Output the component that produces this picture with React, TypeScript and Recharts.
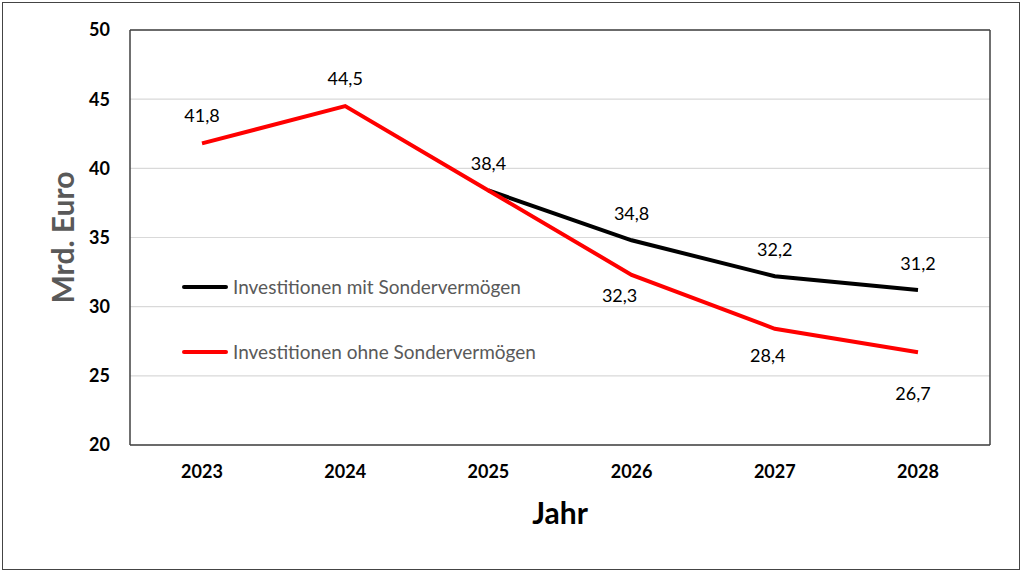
import { CartesianGrid, LabelList, Line, LineChart, XAxis, YAxis } from "recharts";

const years = ["2023", "2024", "2025", "2026", "2027", "2028"];
const mitSonder = [null, null, 38.4, 34.8, 32.2, 31.2];
const ohneSonder = [41.8, 44.5, 38.4, 32.3, 28.4, 26.7];
const yTicks = [20, 25, 30, 35, 40, 45, 50];

const seriesNames = {
  mit: "Investitionen mit Sondervermögen",
  ohne: "Investitionen ohne Sondervermögen"
};

// label nudges (px), per point
const mitLabelDy = [0, 0, 0, -27, -27, -27];
const ohneLabelDy = [-28, -28, -27, 20, 26, 41];
const ohneLabelDx = [0, 0, 0, -12, -7, -5];

const data = years.map((year, i) => ({
  year,
  mit: mitSonder[i],
  ohne: ohneSonder[i]
}));

const font = "Lato, 'Open Sans', sans-serif";
const fmt = (v: number) => v.toFixed(1).replace(".", ",");
const frame = { stroke: "#404040", strokeWidth: 1.5 };

function makeLabel(dyList: number[], dxList: number[] | null, minIndex: number) {
  return (props: any) => {
    const { x, y, value, index } = props;
    if (value == null || index < minIndex) return null;
    return (
      <text
        x={x + (dxList ? dxList[index] : 0)}
        y={y + dyList[index]}
        textAnchor="middle"
        dominantBaseline="central"
        fontFamily={font}
        fontSize={18}
        fill="#000"
      >
        {fmt(value)}
      </text>
    );
  };
}

function LegendBox() {
  const rows = [
    { name: seriesNames.mit, color: "#000000" },
    { name: seriesNames.ohne, color: "#ff0000" }
  ];
  return (
    <div style={{ position: "absolute", left: 182, top: 254, fontFamily: font }}>
      {rows.map((r) => (
        <div key={r.name} style={{ display: "flex", alignItems: "center", height: 65 }}>
          <div style={{ width: 46, height: 4, borderRadius: 2, background: r.color, marginRight: 5 }} />
          <span style={{ fontSize: 19, color: "#595959" }}>{r.name}</span>
        </div>
      ))}
    </div>
  );
}

function YTitle(props: any) {
  const { viewBox } = props;
  const cx = viewBox.x + 42;
  const cy = viewBox.y + viewBox.height / 2;
  return (
    <text
      x={cx}
      y={cy}
      transform={`rotate(-90 ${cx} ${cy})`}
      textAnchor="middle"
      dominantBaseline="central"
      fontFamily={font}
      fontWeight="bold"
      fontSize={30}
      fill="#595959"
    >
      Mrd. Euro
    </text>
  );
}

function XTitle(props: any) {
  const { viewBox } = props;
  const cx = viewBox.x + viewBox.width / 2;
  return (
    <text
      x={cx}
      y={viewBox.y + 67}
      textAnchor="middle"
      dominantBaseline="central"
      fontFamily={font}
      fontWeight="bold"
      fontSize={30}
      fill="#000"
    >
      Jahr
    </text>
  );
}

const tickStyle = { fill: "#000", fontSize: 18, fontWeight: "bold", fontFamily: font };

export default function App() {
  return (
    <div style={{ position: "absolute", left: 0, top: 0, width: 1024, height: 574, background: "#fff" }}>
      <div
        style={{
          position: "absolute",
          left: 2,
          top: 2,
          width: 1018,
          height: 568,
          border: "1.5px solid #444",
          boxSizing: "border-box"
        }}
      />
      <LineChart
        width={1024}
        height={574}
        data={data}
        margin={{ top: 29, right: 33, left: 20, bottom: 44 }}
        style={{ position: "absolute", left: 0, top: 0 }}
      >
        <CartesianGrid vertical={false} stroke="#d9d9d9" strokeWidth={1.2} />
        <XAxis
          dataKey="year"
          height={85}
          padding={{ left: 72, right: 72 }}
          tickLine={false}
          tickSize={0}
          tickMargin={20}
          tick={tickStyle}
          axisLine={frame}
          label={<XTitle />}
        />
        <XAxis
          xAxisId="top"
          orientation="top"
          dataKey="year"
          height={1}
          padding={{ left: 72, right: 72 }}
          tick={false}
          tickLine={false}
          axisLine={frame}
        />
        <YAxis
          domain={[20, 50]}
          ticks={yTicks}
          width={110}
          tickLine={false}
          tickSize={0}
          tickMargin={20}
          tick={tickStyle}
          axisLine={frame}
          label={<YTitle />}
        />
        <YAxis
          yAxisId="right"
          orientation="right"
          domain={[20, 50]}
          width={1}
          tick={false}
          tickLine={false}
          axisLine={frame}
        />
        {/* invisible twin so the top/right frame axes get drawn */}
        <Line
          xAxisId="top"
          yAxisId="right"
          dataKey="ohne"
          stroke="none"
          dot={false}
          activeDot={false}
          legendType="none"
          isAnimationActive={false}
        />
        <Line
          dataKey="mit"
          name={seriesNames.mit}
          stroke="#000000"
          strokeWidth={4}
          dot={false}
          isAnimationActive={false}
        >
          <LabelList dataKey="mit" content={makeLabel(mitLabelDy, null, 3)} />
        </Line>
        <Line
          dataKey="ohne"
          name={seriesNames.ohne}
          stroke="#ff0000"
          strokeWidth={4}
          dot={false}
          isAnimationActive={false}
        >
          <LabelList dataKey="ohne" content={makeLabel(ohneLabelDy, ohneLabelDx, 0)} />
        </Line>
      </LineChart>
      <LegendBox />
    </div>
  );
}
